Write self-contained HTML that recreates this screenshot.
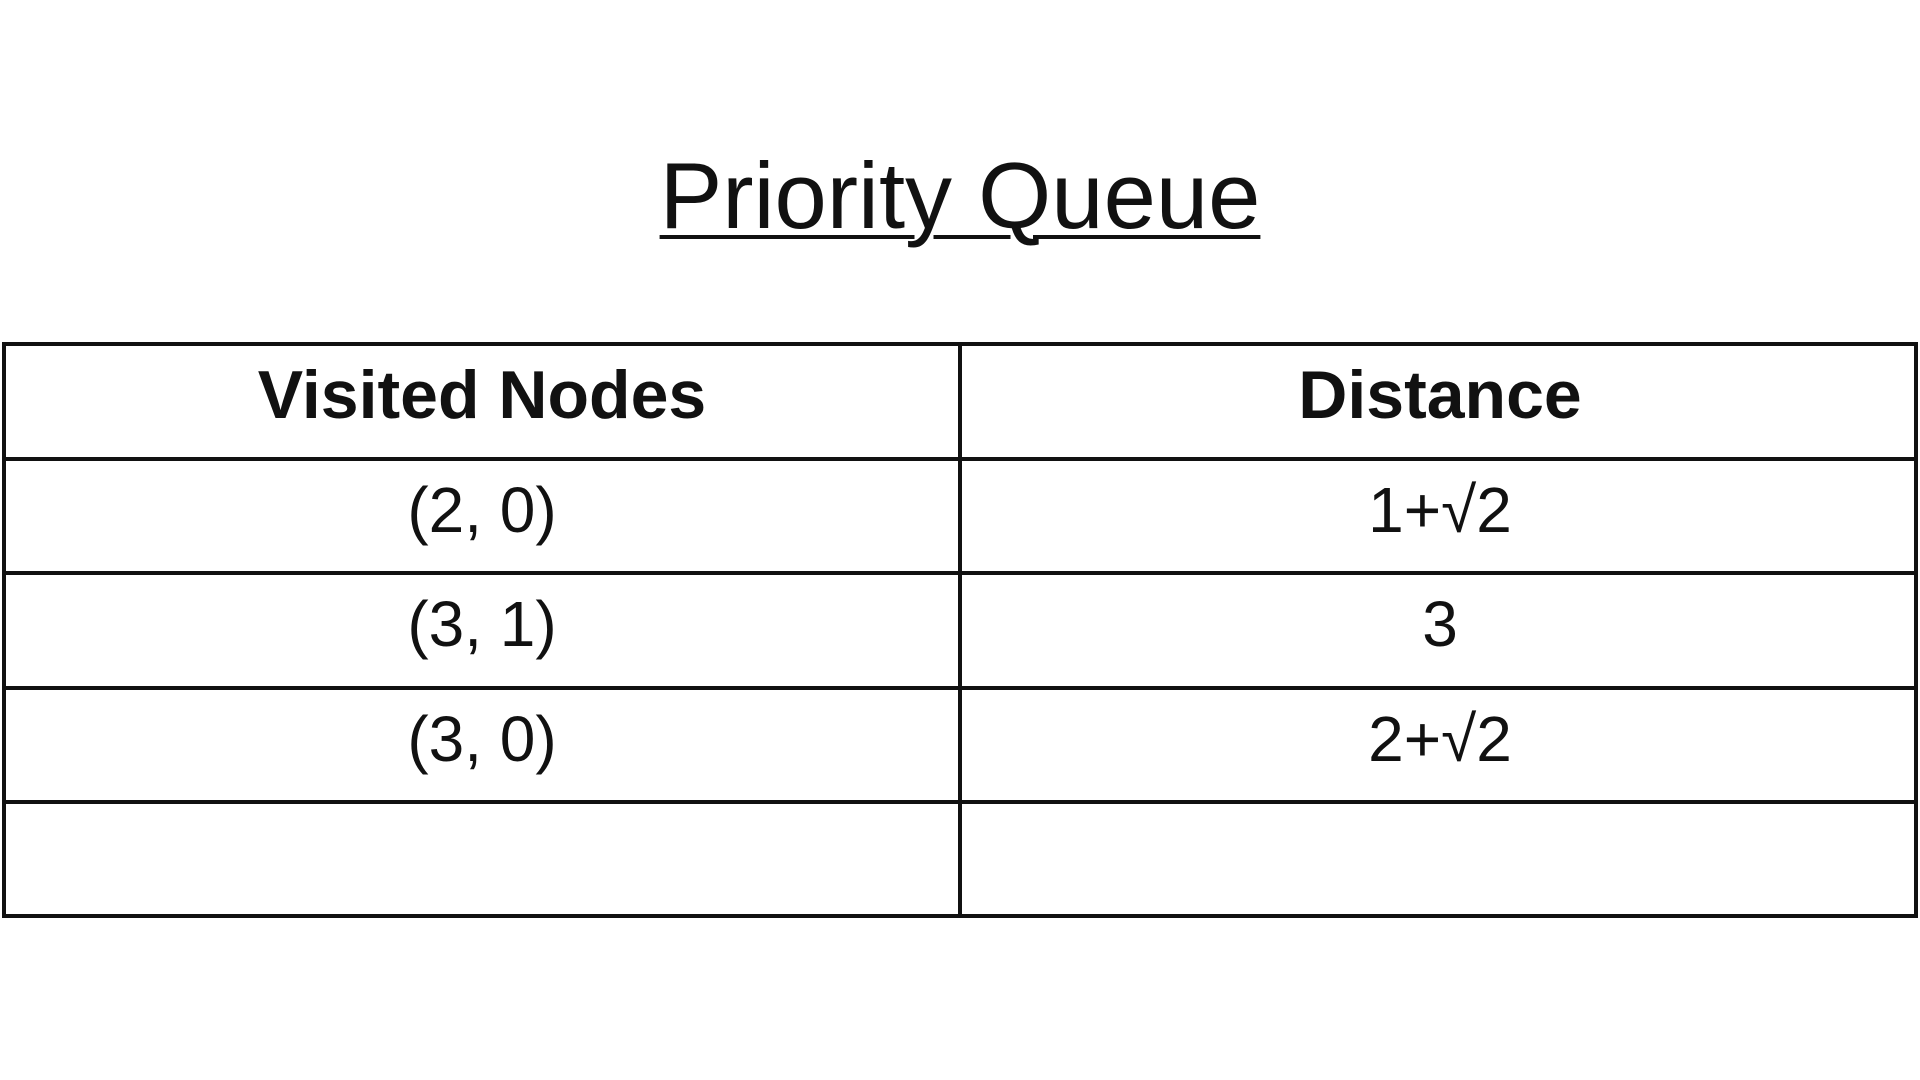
<!DOCTYPE html>
<html><head><meta charset="utf-8"><style>
html,body{margin:0;padding:0;width:1920px;height:1080px;background:#fff;overflow:hidden;font-family:"Liberation Sans",sans-serif;color:#111;}
.title{position:absolute;left:0;width:1920px;top:144px;text-align:center;font-size:94px;line-height:104px;}
.title span{text-decoration:underline;text-decoration-thickness:4px;text-underline-offset:7px;}
.h{position:absolute;left:2px;width:1916px;height:4px;background:#111;}
.v{position:absolute;top:342px;height:576px;width:4px;background:#111;}
.c{position:absolute;width:956px;height:110px;display:flex;align-items:center;justify-content:center;font-size:64px;margin-top:-6px;}
.b{font-weight:bold;font-size:68px;}
</style></head><body>
<div class="title"><span>Priority Queue</span></div>
<div class="h" style="top:342px"></div>
<div class="h" style="top:457px"></div>
<div class="h" style="top:571px"></div>
<div class="h" style="top:686px"></div>
<div class="h" style="top:800px"></div>
<div class="h" style="top:914px"></div>
<div class="v" style="left:2px"></div>
<div class="v" style="left:958px"></div>
<div class="v" style="left:1914px"></div>
<div class="c b" style="left:4px;top:346px">Visited Nodes</div>
<div class="c b" style="left:962px;top:346px">Distance</div>
<div class="c" style="left:4px;top:461px">(2, 0)</div>
<div class="c" style="left:962px;top:461px">1+√2</div>
<div class="c" style="left:4px;top:575px">(3, 1)</div>
<div class="c" style="left:962px;top:575px">3</div>
<div class="c" style="left:4px;top:690px">(3, 0)</div>
<div class="c" style="left:962px;top:690px">2+√2</div>
</body></html>
